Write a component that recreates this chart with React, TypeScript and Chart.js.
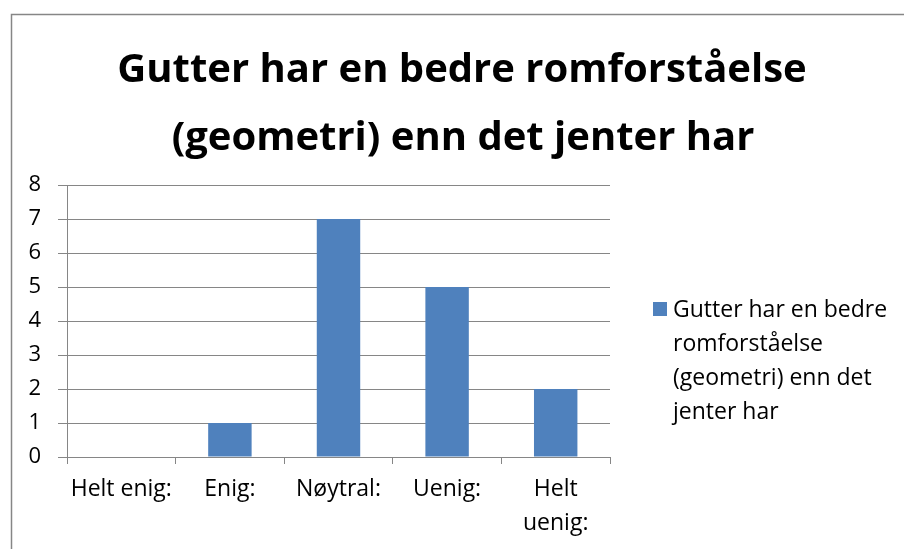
import React, { useEffect, useRef } from "react";
import { Chart, registerables } from "chart.js";
Chart.register(...registerables);

const categories: string[][] = [["Helt enig:"], ["Enig:"], ["Nøytral:"], ["Uenig:"], ["Helt", "uenig:"]];
const values: number[] = [0, 1, 7, 5, 2];
const seriesName = "Gutter har en bedre romforståelse (geometri) enn det jenter har";
const titleLines: string[] = ["Gutter har en bedre romforståelse", "(geometri) enn det jenter har"];
const legendLines: string[] = ["Gutter har en bedre", "romforståelse", "(geometri) enn det", "jenter har"];
const yMin = 0;
const yMax = 8;
const yStep = 1;

const FONT = "'Open Sans', 'Noto Sans', sans-serif";
const BAR = "#4F81BD";
const GRID = "#868686";

const decor = {
  id: "decor",
  beforeDraw(chart: any) {
    const ctx = chart.ctx;
    ctx.save();
    ctx.fillStyle = "#fff";
    ctx.fillRect(0, 0, chart.width, chart.height);
    ctx.strokeStyle = GRID;
    ctx.lineWidth = 1.5;
    ctx.strokeRect(11.5, 14.5, chart.width + 20, chart.height + 20);
    ctx.restore();
  },
  afterDraw(chart: any) {
    const ctx = chart.ctx;
    ctx.save();
    ctx.fillStyle = "#000";
    ctx.textAlign = "center";
    ctx.textBaseline = "alphabetic";
    ctx.font = `bold 40px ${FONT}`;
    ctx.fillText(titleLines[0], 462, 82);
    ctx.fillText(titleLines[1], 463, 150);
    // legend
    const ds = chart.data.datasets[0];
    ctx.fillStyle = ds.backgroundColor;
    ctx.fillRect(653, 302, 14, 14);
    ctx.fillStyle = "#000";
    ctx.textAlign = "left";
    ctx.textBaseline = "middle";
    ctx.font = `23px ${FONT}`;
    legendLines.forEach((l, i) => ctx.fillText(l, 673, 310 + i * 34));
    ctx.restore();
  },
};

export default function App() {
  const ref = useRef<HTMLCanvasElement>(null);
  useEffect(() => {
    const chart = new Chart(ref.current!, {
      type: "bar",
      data: {
        labels: categories,
        datasets: [
          {
            label: seriesName,
            data: values,
            backgroundColor: BAR,
            barPercentage: 0.4,
            categoryPercentage: 1,
          },
        ],
      },
      options: {
        animation: false,
        responsive: false,
        devicePixelRatio: 1,
        layout: { padding: { top: 185, right: 294, left: 0, bottom: 0 } },
        plugins: { legend: { display: false }, title: { display: false }, tooltip: { enabled: false } },
        scales: {
          x: {
            offset: true,
            grid: { display: true, drawOnChartArea: false, drawTicks: true, tickLength: 7, color: GRID, offset: true },
            border: { display: true, color: GRID },
            ticks: { color: "#000", font: { family: FONT, size: 23, lineHeight: 1.48 }, padding: 8, maxRotation: 0, autoSkip: false },
            afterFit: (s: any) => { s.height = 92; },
          },
          y: {
            min: yMin,
            max: yMax,
            grid: { color: GRID, tickLength: 9 },
            border: { display: true, color: GRID },
            ticks: { stepSize: yStep, color: "#000", font: { family: FONT, size: 22 }, padding: 17 },
            afterFit: (s: any) => { s.width = 67; },
          },
        },
      },
      plugins: [decor],
    });
    return () => chart.destroy();
  }, []);
  return (
    <div style={{ position: "absolute", left: 0, top: 0, width: 904, height: 549 }}>
      <canvas ref={ref} width={904} height={549} style={{ display: "block" }} />
    </div>
  );
}
